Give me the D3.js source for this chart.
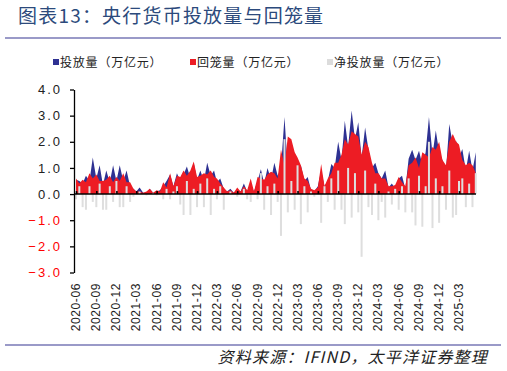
<!DOCTYPE html>
<html lang="zh">
<head>
  <meta charset="UTF-8">
  <title>央行货币投放量与回笼量</title>
  <script src="https://d3js.org/d3.v7.min.js"></script>
  <style>
    body { margin: 0; background: #fff; }
    svg { font-family: "Liberation Sans", Arial, sans-serif; }
    .cjk { font-family: "Noto Sans CJK SC", sans-serif; }
  </style>
</head>
<body>
<svg id="chart" width="507" height="371"></svg>
<script>
// half-monthly points, starting 2020-06-01 (1st and 16th of each month)
const startDate = new Date(2020, 5, 1);

// 投放量 (万亿元)
const injection = [
  .55, .5, .4, .7, .5, 1.4, .6, 1.1, .35, .9,
  .45, 1.1, .5, 1.1, .5, .9, .3, .2, .1, .25,
  .05, .05, .2, .05, .1, .15, .3, .5, .75, .3,
  .8, .5, .75, 1.05, .6, 1.2, .55, .9, .5, 1.2,
  .7, .9, .45, .6, .2, .1, .2, .05, .15, .1,
  .4, .1, .3, .1, .5, .95, .4, 1.0, .55, 1.2,
  .7, 1.0, 2.95, .9, 1.3, 1.6, 1.0, 1.1, .5, .65,
  .15, .1, .3, .9, .3, .5, 1.15, 1.0, 2.0, 1.3,
  2.8, 1.8, 3.2, 2.1, 2.75, 1.4, 2.55, 1.7, 1.0, 1.2,
  .8, .6, .9, .25, .4, .2, .6, .7, .2, 1.35,
  1.7, 1.3, 1.66, 1.1, 1.6, 2.95, 1.5, 2.43, 1.6, 1.3,
  .9, 2.68, 1.9, 2.04, 1.4, 1.72, .9, 1.66, .9, 1.6
];

// 回笼量 (万亿元)
const withdrawal = [
  .6, .4, .55, .45, .8, .6, .75, .5, .5, .55,
  .7, .45, .65, .5, .8, .45, .45, .2, .1, .1,
  .05, .1, .2, .05, .15, .1, .45, .25, .8, .3,
  .7, .65, .9, .7, .9, 1.25, .65, .7, .8, .75,
  .9, .65, .6, .4, .25, .1, .15, .05, .25, .1,
  .3, .15, .6, .1, .65, .6, .55, .75, .85, .8,
  .6, 1.7, 1.1, 2.2, 2.1, 1.6, 1.4, 1.1, .6, .5,
  .2, .15, .25, 1.15, .3, .6, .8, 1.2, 1.2, 1.5,
  2.1, 1.9, 2.4, 2.3, 2.2, 1.5, 2.0, 1.8, 1.2, .8,
  .8, .6, .6, .3, .3, .35, .65, .45, .3, 1.1,
  1.2, 1.4, 1.0, 1.6, 1.5, 1.4, 1.8, 1.7, 2.0, 1.3,
  1.1, 2.0, 2.3, 2.0, 1.9, 1.3, 1.1, 1.2, 1.1, .8
];

// 净投放量 (万亿元)
const netInjection = [
  -.2, .3, -.5, -.6, .3, -.3, -.5, .4, -.6, -.6,
  .3, -.3, .5, -.5, -.5, .3, -.3, -.1, 0, .1,
  0, -.05, 0, .05, -.05, 0, -.2, .2, -.2, .1,
  .3, -.4, -.8, .5, -.8, .2, -.5, .4, -.5, .6,
  -.8, .2, -.2, .3, -.6, 0, .1, 0, -.1, 0,
  .2, -.2, -.3, 0, -.2, .8, -.6, .3, -.8, .4,
  -.3, -1.6, 2.1, -.7, .5, -.6, 1.1, -1.15, .3, -.7,
  .1, -.1, 0, -1.1, .3, -.3, .6, -.6, .9, -.6,
  -1.15, 1.0, -.9, .8, -.7, -2.4, .9, -.5, -.8, .4,
  -1.0, -.3, -.9, .1, -.4, .2, -.6, .3, -.7, .6,
  -.7, -1.2, .7, -1.25, .3, 2.0, -1.3, .6, -1.1, .3,
  -.6, .9, -.9, -.8, .5, .6, -.5, .4, -.5, .8
];

const yTicks = [4, 3, 2, 1, 0, -1, -2, -3];
const xTickLabels = [
  "2020-06", "2020-09", "2020-12", "2021-03", "2021-06", "2021-09", "2021-12",
  "2022-03", "2022-06", "2022-09", "2022-12", "2023-03", "2023-06", "2023-09",
  "2023-12", "2024-03", "2024-06", "2024-09", "2024-12", "2025-03"
];
const legendItems = [
  { name: "投放量（万亿元）", color: "#2e3192" },
  { name: "回笼量（万亿元）", color: "#ed1c24" },
  { name: "净投放量（万亿元）", color: "#dcdcdc" }
];

const dates = injection.map((d, i) =>
  new Date(startDate.getFullYear(), startDate.getMonth() + Math.floor(i / 2), i % 2 ? 16 : 1));

const svg = d3.select("#chart");

// title + rules
svg.append("text").attr("class", "cjk")
  .attr("x", 18).attr("y", 23)
  .attr("font-size", 19).attr("letter-spacing", 1.2)
  .attr("fill", "#2c4a7c")
  .text("图表13：央行货币投放量与回笼量");
svg.append("line").attr("x1", 5).attr("x2", 501).attr("y1", 38).attr("y2", 38)
  .attr("stroke", "#9a9ac8").attr("stroke-width", 2);
svg.append("line").attr("x1", 5).attr("x2", 501).attr("y1", 345).attr("y2", 345)
  .attr("stroke", "#9a9ac8").attr("stroke-width", 2);

// legend
const legendX = [53, 190, 327];
const lg = svg.append("g").selectAll("g").data(legendItems).enter().append("g")
  .attr("transform", (d, i) => `translate(${legendX[i]},62)`);
lg.append("rect").attr("x", 0).attr("y", -3).attr("width", 6).attr("height", 6)
  .attr("fill", d => d.color);
lg.append("text").attr("class", "cjk")
  .attr("x", 7).attr("y", 4.5)
  .attr("font-size", 12).attr("letter-spacing", 0.8).attr("fill", "#222")
  .text(d => d.name);

// scales
const x = d3.scaleTime()
  .domain([new Date(2020, 5, 1), new Date(2025, 2, 1)])
  .range([76, 459]);
const y = d3.scaleLinear().domain([-3, 4]).range([272.5, 89.5]);

// series
const g = svg.append("g");
g.append("path").datum(injection)
  .attr("fill", "#2e3192")
  .attr("d", d3.area().x((d, i) => x(dates[i])).y0(y(0)).y1(d => y(d)));
g.append("path").datum(withdrawal)
  .attr("fill", "#ed1c24")
  .attr("d", d3.area().x((d, i) => x(dates[i])).y0(y(0)).y1(d => y(d)));
g.selectAll(".net").data(netInjection).enter().append("rect")
  .attr("class", "net")
  .attr("x", (d, i) => x(dates[i]) - 1)
  .attr("width", 2)
  .attr("y", d => y(Math.max(0, d)))
  .attr("height", d => Math.abs(y(d) - y(0)))
  .attr("fill", "#dedede");

// y axis
const yAxis = svg.append("g").attr("transform", "translate(74,0)")
  .call(d3.axisLeft(y).tickValues(yTicks).tickSize(4).tickSizeOuter(0)
    .tickFormat(d3.format(".1f")));
yAxis.select(".domain").attr("stroke", "#000").attr("stroke-width", 1.3);
yAxis.selectAll(".tick line").attr("stroke", "#000").attr("stroke-width", 1.3);
yAxis.selectAll(".tick text")
  .attr("x", -12)
  .attr("font-size", 13).attr("letter-spacing", 2)
  .attr("fill", d => d < 0 ? "#ff0000" : "#222")
  .text(d => d3.format(".1f")(d).replace("-", "−"));

// x axis on zero line
const xTickDates = xTickLabels.map(s => new Date(+s.slice(0, 4), +s.slice(5) - 1, 1));
const xAxis = svg.append("g").attr("transform", `translate(0,${y(0)})`)
  .call(d3.axisTop(x).tickValues(xTickDates).tickSize(3).tickSizeOuter(0).tickFormat(""));
xAxis.select(".domain").attr("d", `M74,0H476`).attr("stroke", "#000").attr("stroke-width", 1.6);
xAxis.selectAll(".tick line").attr("stroke", "#000").attr("stroke-width", 1.6);

svg.append("g").selectAll("text").data(xTickLabels).enter().append("text")
  .attr("transform", (d, i) => `translate(${x(xTickDates[i]) + 4},283) rotate(-90)`)
  .attr("text-anchor", "end")
  .attr("font-size", 12).attr("letter-spacing", 0.6).attr("fill", "#222")
  .text(d => d);

// source
svg.append("text").attr("class", "cjk")
  .attr("x", 488).attr("y", 363)
  .attr("text-anchor", "end")
  .attr("font-size", 16).attr("font-style", "italic").attr("letter-spacing", 1.2)
  .attr("fill", "#222")
  .text("资料来源：IFIND，太平洋证券整理");
</script>
</body>
</html>
